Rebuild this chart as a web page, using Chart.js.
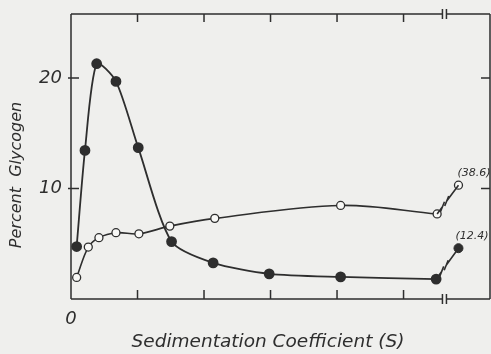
<!DOCTYPE html>
<html lang="en">
<head>
<meta charset="UTF-8">
<title>Percent Glycogen vs Sedimentation Coefficient</title>
<script src="https://cdn.jsdelivr.net/npm/chart.js@4.4.1/dist/chart.umd.min.js"></script>
<style>
    html, body { margin: 0; padding: 0; background: #efefed; }
    canvas { display: block; }
</style>
</head>
<body>
<canvas id="glycogenChart" width="491" height="354"></canvas>
<script>
// filled circles
var solidX = [85, 210, 386, 676, 1011, 1512, 2137, 2980, 4054, 5490];
var solidY = [4.75, 13.45, 21.3, 19.7, 13.7, 5.2, 3.27, 2.28, 2.0, 1.8];

// open circles
var openX = [85, 260, 420, 676, 1021, 1486, 2162, 4054, 5505];
var openY = [1.95, 4.7, 5.55, 6.0, 5.9, 6.6, 7.3, 8.47, 7.7];

// the points drawn past the axis break, with their real values as labels
var breakAt = 5615;
var beyondX = 5826;
var beyondSolidY = 4.6;
var beyondOpenY = 10.3;
var beyondSolidLabel = '(12.4)';
var beyondOpenLabel = '(38.6)';

// ticks
var xMinorTicks = [1000, 2000, 3000, 4000, 5000];
var xLabelled = [0, 2000, 4000];
var yTicks = [10, 20];

var ink = '#2e2e2e';
var italic = function (size) {
    return { family: 'DejaVu Sans', style: 'italic', size: size };
};

function pts(xs, ys) {
    return xs.map(function (x, i) { return { x: x, y: ys[i] }; });
}

// axis frame, inward ticks, the axis break, titles and the break labels
var decorations = {
    id: 'decorations',
    beforeDatasetsDraw: function (chart) {
        var c = chart.ctx, a = chart.chartArea;
        var xs = chart.scales.x, ys = chart.scales.y;
        var bx = xs.getPixelForValue(breakAt);
        c.save();
        c.strokeStyle = ink;
        c.lineWidth = 1.5;
        c.beginPath();
        // left and right
        c.moveTo(a.left, a.top); c.lineTo(a.left, a.bottom);
        c.moveTo(a.right, a.top); c.lineTo(a.right, a.bottom);
        // top and bottom, broken
        [a.top, a.bottom].forEach(function (y) {
            c.moveTo(a.left, y); c.lineTo(bx - 2, y);
            c.moveTo(bx + 2, y); c.lineTo(a.right, y);
            c.moveTo(bx - 2, y - 5); c.lineTo(bx - 2, y + 5);
            c.moveTo(bx + 2, y - 5); c.lineTo(bx + 2, y + 5);
        });
        xMinorTicks.forEach(function (v) {
            var x = xs.getPixelForValue(v);
            c.moveTo(x, a.bottom); c.lineTo(x, a.bottom - 9);
            c.moveTo(x, a.top); c.lineTo(x, a.top + 8);
        });
        yTicks.forEach(function (v) {
            var y = ys.getPixelForValue(v);
            c.moveTo(a.left - 3, y); c.lineTo(a.left + 8, y);
            c.moveTo(a.right, y); c.lineTo(a.right - 9, y);
        });
        c.stroke();
        c.restore();
    },
    afterDatasetsDraw: function (chart) {
        var c = chart.ctx;
        var xs = chart.scales.x, ys = chart.scales.y;
        c.save();
        c.strokeStyle = ink;
        c.fillStyle = ink;
        c.lineWidth = 1.6;

        // broken connectors to the points past the break
        [[solidX, solidY, beyondSolidY], [openX, openY, beyondOpenY]].forEach(function (s) {
            var n = s[0].length - 1;
            var x1 = xs.getPixelForValue(s[0][n]), y1 = ys.getPixelForValue(s[1][n]);
            var x2 = xs.getPixelForValue(beyondX), y2 = ys.getPixelForValue(s[2]);
            var at = function (t) { return [x1 + (x2 - x1) * t, y1 + (y2 - y1) * t]; };
            var p = at(0.25), q = at(0.45);
            c.beginPath();
            c.moveTo(x1, y1); c.lineTo(p[0], p[1]);
            c.moveTo(q[0], q[1]); c.lineTo(x2, y2);
            [p, q].forEach(function (m) {
                c.moveTo(m[0] - 2, m[1] + 5); c.lineTo(m[0] + 2, m[1] - 5);
            });
            c.stroke();
        });

        c.font = 'italic 11px "DejaVu Sans"';
        c.textBaseline = 'middle';
        c.textAlign = 'left';
        var lx = xs.getPixelForValue(beyondX);
        c.fillText(beyondOpenLabel, lx - 1, ys.getPixelForValue(beyondOpenY) - 12);
        c.fillText(beyondSolidLabel, lx - 3, ys.getPixelForValue(beyondSolidY) - 12);

        // axis titles
        c.font = 'italic 18.5px "DejaVu Sans"';
        c.textAlign = 'center';
        c.fillText('Sedimentation Coefficient (S)', 268, 342);
        c.font = 'italic 16px "DejaVu Sans"';
        c.translate(17, 175);
        c.rotate(-Math.PI / 2);
        c.fillText('Percent  Glycogen', 0, 0);
        c.restore();
    }
};

var ctx = document.getElementById('glycogenChart').getContext('2d');
var chart = new Chart(ctx, {
    type: 'line',
    data: {
        datasets: [{
            data: pts(openX, openY),
            borderColor: ink,
            borderWidth: 1.6,
            tension: 0.35,
            pointRadius: 4,
            pointBorderWidth: 1.3,
            pointBackgroundColor: '#f8f8f6',
            pointBorderColor: ink
        }, {
            data: pts(solidX, solidY),
            borderColor: ink,
            borderWidth: 1.8,
            tension: 0.25,
            pointRadius: 4.5,
            pointBackgroundColor: ink,
            pointBorderColor: ink
        }, {
            data: [{ x: beyondX, y: beyondSolidY }],
            showLine: false,
            pointRadius: 4.5,
            pointBackgroundColor: ink,
            pointBorderColor: ink
        }, {
            data: [{ x: beyondX, y: beyondOpenY }],
            showLine: false,
            pointRadius: 4,
            pointBorderWidth: 1.3,
            pointBackgroundColor: '#f8f8f6',
            pointBorderColor: ink
        }]
    },
    options: {
        responsive: false,
        animation: false,
        layout: { autoPadding: false, padding: { top: 14, right: 1, left: 0, bottom: 0 } },
        plugins: { legend: { display: false }, tooltip: { enabled: false } },
        scales: {
            x: {
                type: 'linear',
                min: 0,
                max: 6300,
                grid: { display: false, drawTicks: false },
                border: { display: false },
                ticks: {
                    stepSize: 1000,
                    autoSkip: false,
                    maxRotation: 0,
                    padding: 10,
                    color: ink,
                    font: italic(18),
                    callback: function (v) { return xLabelled.includes(v) ? String(v) : ''; }
                },
                afterFit: function (s) {
                    s.height = 55;
                    s.paddingLeft = 0;
                    s.paddingRight = 0;
                }
            },
            y: {
                min: 0,
                max: 25.8,
                grid: { display: false, drawTicks: false },
                border: { display: false },
                ticks: {
                    stepSize: 10,
                    padding: 9,
                    color: ink,
                    font: italic(18),
                    callback: function (v) { return yTicks.includes(v) ? String(v) : ''; }
                },
                afterFit: function (s) {
                    s.width = 71;
                    s.paddingTop = 0;
                    s.paddingBottom = 0;
                }
            }
        }
    },
    plugins: [decorations]
});
</script>
</body>
</html>
